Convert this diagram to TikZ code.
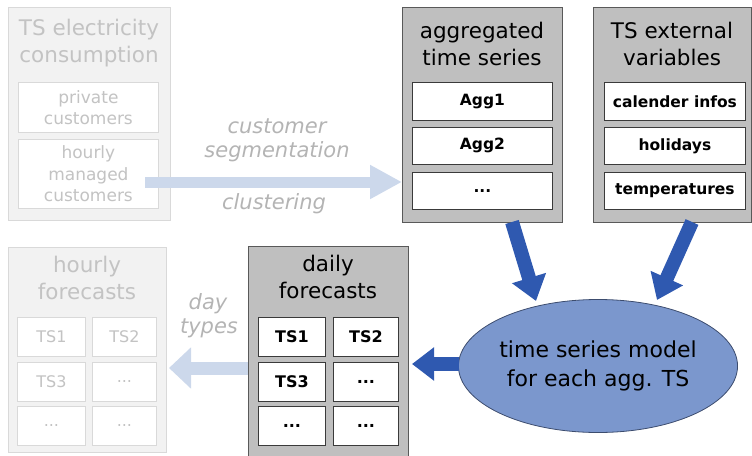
\documentclass[tikz,border=0pt]{standalone}
\usepackage{fontspec}
\setmainfont{DejaVu Sans}
\usetikzlibrary{shapes.geometric,arrows.meta,calc}

\definecolor{panelFill}{HTML}{BFBFBF}
\definecolor{panelLine}{HTML}{595959}
\definecolor{paleFill}{HTML}{F2F2F2}
\definecolor{paleLine}{HTML}{D9D9D9}
\definecolor{paleText}{HTML}{C3C3C3}
\definecolor{cellLine}{HTML}{3A3A3A}
\definecolor{labelGray}{HTML}{B4B4B4}
\definecolor{softBlue}{HTML}{CCD8EB}
\definecolor{deepBlue}{HTML}{2F59B0}
\definecolor{modelFill}{HTML}{7B97CD}
\definecolor{modelLine}{HTML}{3C4C6E}

\newcommand\ttlfont{\fontsize{21.5}{27}\selectfont}
\newcommand\celfont{\fontsize{15.5}{21}\selectfont\bfseries}
\newcommand\tsfont{\fontsize{16}{20}\selectfont}

\begin{document}
\begin{tikzpicture}[x=1pt,y=-1pt,
  panel/.style={draw=panelLine, fill=panelFill, line width=1pt, inner sep=0pt, anchor=north west},
  palepanel/.style={draw=paleLine, fill=paleFill, line width=1pt, inner sep=0pt, anchor=north west},
  cell/.style={draw=cellLine, fill=white, line width=0.8pt, inner sep=0pt, anchor=north west, font=\celfont},
  palecell/.style={draw=paleLine, fill=white, line width=0.8pt, inner sep=0pt, anchor=north west, text=paleText},
  paletitle/.style={align=center, inner sep=0pt, font=\ttlfont, text=paleText},
  darktitle/.style={align=center, inner sep=0pt, font=\ttlfont, text=black},
  sidelabel/.style={inner sep=0pt, font=\fontsize{21}{27}\selectfont\itshape, text=labelGray},
  softarrow/.style={draw=softBlue, line width=#1},
  bluearrow/.style={draw=deepBlue, line width=14pt, -{Triangle[width=34pt,length=24pt]}}
]
\useasboundingbox (0,0) rectangle (752,455);

% --- consumption panel (faded) ---
\node[palepanel, minimum width=162pt, minimum height=213pt] (cons) at (8,7) {};
\node[paletitle] (consT) at (89,43.5) {TS electricity\\consumption};
\node[palecell, minimum width=140pt, minimum height=50pt, align=center,
      font=\fontsize{17}{21}\selectfont] (priv) at (18,82) {private\\customers};
\node[palecell, minimum width=140pt, minimum height=69pt, align=center,
      font=\fontsize{17}{21.5}\selectfont] (hmc) at (18,139) {hourly\\managed\\customers};

% --- aggregated time series panel ---
\node[panel, minimum width=160pt, minimum height=215pt] (agg) at (402,7) {};
\node[darktitle] (aggT) at (482,43.5) {aggregated\\time series};
\node[cell, minimum width=140pt, minimum height=38pt] (agg1) at (412,82) {Agg1};
\node[cell, minimum width=140pt, minimum height=37pt] (agg2) at (412,127) {Agg2};
\node[cell, minimum width=140pt, minimum height=37pt] (agg3) at (412,172) {...};

% --- external variables panel ---
\node[panel, minimum width=158pt, minimum height=215pt] (ext) at (593,7) {};
\node[darktitle] (extT) at (672,43.5) {TS external\\variables};
\node[cell, minimum width=141pt, minimum height=38pt] (cal) at (604,82) {calender infos};
\node[cell, minimum width=141pt, minimum height=37pt] (hol) at (604,127) {holidays};
\node[cell, minimum width=141pt, minimum height=37pt] (tmp) at (604,172) {temperatures};

% --- hourly forecasts panel (faded) ---
\node[palepanel, minimum width=158pt, minimum height=205pt] (hf) at (8,247) {};
\node[paletitle] (hfT) at (87,278) {hourly\\forecasts};
\begin{scope}[every node/.append style={palecell, minimum height=39pt, font=\tsfont}]
  \node[minimum width=68pt] (h11) at (17,317) {TS1};
  \node[minimum width=64pt] (h12) at (92,317) {TS2};
  \node[minimum width=68pt] (h21) at (17,362) {TS3};
  \node[minimum width=64pt] (h22) at (92,362) {...};
  \node[minimum width=68pt] (h31) at (17,406) {...};
  \node[minimum width=64pt] (h32) at (92,406) {...};
\end{scope}

% --- daily forecasts panel ---
\node[panel, minimum width=160pt, minimum height=212pt] (df) at (248,246) {};
\node[darktitle] (dfT) at (328,277) {daily\\forecasts};
\begin{scope}[every node/.append style={cell, minimum height=39pt, font=\tsfont\bfseries}]
  \node[minimum width=67pt] (d11) at (258,317) {TS1};
  \node[minimum width=65pt] (d12) at (333,317) {TS2};
  \node[minimum width=67pt] (d21) at (258,362) {TS3};
  \node[minimum width=65pt] (d22) at (333,362) {...};
  \node[minimum width=67pt] (d31) at (258,406) {...};
  \node[minimum width=65pt] (d32) at (333,406) {...};
\end{scope}

% --- model ellipse ---
\node[ellipse, draw=modelLine, fill=modelFill, line width=0.8pt,
      minimum width=249pt, minimum height=133pt, inner sep=0pt, align=center,
      font=\fontsize{22}{29}\selectfont] (model) at (598,366)
      {time series model\\for each agg. TS};

% --- light transfer arrows ---
\coordinate (segStart) at (145,182);
\draw[softarrow=11pt, -{Triangle[width=32pt,length=32pt]}]
  (segStart) -- (segStart -| agg.west);
\node[sidelabel] (segA) at (277,126) {customer};
\node[sidelabel] (segB) at (277,152) {segmentation};
\node[sidelabel] (segC) at (274,204) {clustering};

\coordinate (dayStart) at (248,368);
\draw[softarrow=13pt, -{Triangle[width=40pt,length=22pt]}]
  (dayStart) -- ([xshift=2pt]dayStart -| hf.east);
\node[sidelabel] (dayA) at (208,304) {day};
\node[sidelabel] (dayB) at (209,328) {types};

% --- blue arrows into and out of the model ---
\coordinate (aggOut) at (512,222);
\coordinate (aggIn) at (536,301);
\coordinate (extOut) at (692,222);
\coordinate (extIn) at (657,300);
\coordinate (dfIn) at (412,364);
\draw[bluearrow] (aggOut) -- (aggIn);
\draw[bluearrow] (extOut) -- (extIn);
\draw[bluearrow, line width=14pt, -{Triangle[width=32pt,length=22pt]}]
  (model.west |- dfIn) ++(1pt,0) -- (dfIn);
\end{tikzpicture}
\end{document}
